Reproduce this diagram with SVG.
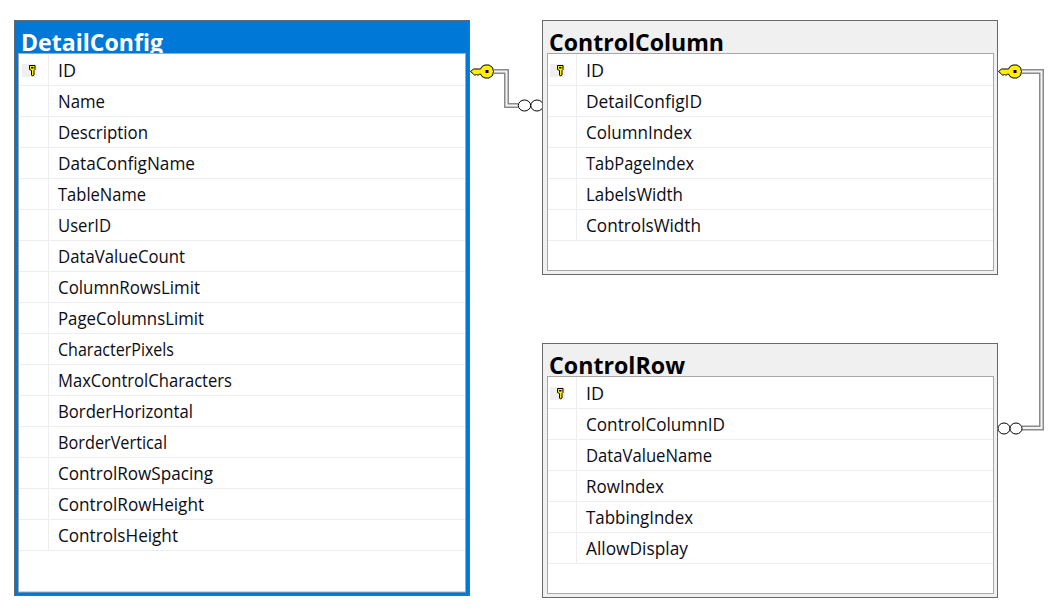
<svg xmlns="http://www.w3.org/2000/svg" width="1055" height="614" viewBox="0 0 1055 614">
<style>
text{font-family:"Open Sans","Noto Sans","Liberation Sans",sans-serif;}
.t{font-size:24px;font-weight:700;fill:#000}
.w{fill:#fff}
.f{font-size:18px;fill:#0c0c14}
.o{fill:#f0f0f0;stroke:#696969;stroke-width:1}
.b{fill:#0078d7;stroke:#5f6a74;stroke-width:1}
.p{fill:#fff;stroke:#a8a8a8;stroke-width:1}
.r{stroke:#eeeeee;stroke-width:1;fill:none}
.k{fill:#efefef}
.c1{fill:none;stroke:#8a8a8a;stroke-width:5}
.c2{fill:none;stroke:#f4f4f4;stroke-width:2}
.ci{fill:#fff;stroke:#000;stroke-width:1}
.g{fill:#ffee00;stroke:#000;stroke-width:1}
.h{fill:#000}
</style>
<defs>
<g id="pk"><rect class="k" x="-8" y="-7" width="15" height="13"/><path class="g" d="M-0.500 -5.500H5V-1.500L4 -0.500V4L2.500 5L1.500 4V-0.500L-0.500 -1.500Z"/><rect class="h" x="1" y="-4" width="2.500" height="1.500"/></g>
<g id="lk"><path class="g" d="M0.500 0L3.500 -2.500H10.500L12 -5L15 -6.500H19L22.500 -4L23.500 0L22.500 4L19 6.500H15L12 5L10.500 2.500H9.500L8 4L6.500 2.500L5 4L3.500 2.500Z"/><rect class="h" x="15.500" y="-1.500" width="3" height="3"/></g>
</defs>
<g id="connectors">
<path class="c1" d="M494 71.500H506.500V105.500H518"/>
<path class="c2" d="M494 71.500H506.500V105.500H518"/>
<ellipse class="ci" cx="524.500" cy="105.500" rx="6.200" ry="5.500"/><ellipse class="ci" cx="537" cy="105.500" rx="6.200" ry="5.500"/>
<path class="c1" d="M1022 71.500H1041.500V428H1022"/>
<path class="c2" d="M1022 71.500H1041.500V428H1022"/>
<ellipse class="ci" cx="1004" cy="428.500" rx="6" ry="5.500"/><ellipse class="ci" cx="1016" cy="428.500" rx="6" ry="5.500"/>
<use href="#lk" x="470" y="71.500"/>
<use href="#lk" x="998" y="71.500"/>
</g>
<g id="DetailConfig">
<rect class="b" x="14.500" y="20.500" width="455" height="575"/>
<text class="t w" x="21" y="51" textLength="142" lengthAdjust="spacingAndGlyphs">DetailConfig</text>
<rect class="p" x="18.500" y="53.500" width="447" height="538.500"/>
<path class="r" d="M19 85.500H465M19 116.500H465M19 147.500H465M19 178.500H465M19 209.500H465M19 240.500H465M19 271.500H465M19 302.500H465M19 333.500H465M19 364.500H465M19 395.500H465M19 426.500H465M19 457.500H465M19 488.500H465M19 519.500H465M19 550.500H465M48.500 54V550"/>
<use href="#pk" x="30" y="71"/>
<text class="f" x="58" y="77" textLength="18" lengthAdjust="spacingAndGlyphs">ID</text>
<text class="f" x="58" y="108" textLength="47" lengthAdjust="spacingAndGlyphs">Name</text>
<text class="f" x="58" y="139" textLength="90" lengthAdjust="spacingAndGlyphs">Description</text>
<text class="f" x="58" y="170" textLength="137" lengthAdjust="spacingAndGlyphs">DataConfigName</text>
<text class="f" x="58" y="201" textLength="88" lengthAdjust="spacingAndGlyphs">TableName</text>
<text class="f" x="58" y="232" textLength="53" lengthAdjust="spacingAndGlyphs">UserID</text>
<text class="f" x="58" y="263" textLength="127" lengthAdjust="spacingAndGlyphs">DataValueCount</text>
<text class="f" x="58" y="294" textLength="142" lengthAdjust="spacingAndGlyphs">ColumnRowsLimit</text>
<text class="f" x="58" y="325" textLength="146" lengthAdjust="spacingAndGlyphs">PageColumnsLimit</text>
<text class="f" x="58" y="356" textLength="116" lengthAdjust="spacingAndGlyphs">CharacterPixels</text>
<text class="f" x="58" y="387" textLength="174" lengthAdjust="spacingAndGlyphs">MaxControlCharacters</text>
<text class="f" x="58" y="418" textLength="135" lengthAdjust="spacingAndGlyphs">BorderHorizontal</text>
<text class="f" x="58" y="449" textLength="109" lengthAdjust="spacingAndGlyphs">BorderVertical</text>
<text class="f" x="58" y="480" textLength="155" lengthAdjust="spacingAndGlyphs">ControlRowSpacing</text>
<text class="f" x="58" y="511" textLength="146" lengthAdjust="spacingAndGlyphs">ControlRowHeight</text>
<text class="f" x="58" y="542" textLength="120" lengthAdjust="spacingAndGlyphs">ControlsHeight</text>
</g>
<g id="ControlColumn">
<rect class="o" x="542.500" y="20.500" width="455" height="254"/>
<text class="t" x="549" y="51" textLength="175" lengthAdjust="spacingAndGlyphs">ControlColumn</text>
<rect class="p" x="547.500" y="53.500" width="446" height="217"/>
<path class="r" d="M548 85.500H993M548 116.500H993M548 147.500H993M548 178.500H993M548 209.500H993M548 240.500H993M576.500 54V240"/>
<use href="#pk" x="558" y="71"/>
<text class="f" x="586" y="77" textLength="18" lengthAdjust="spacingAndGlyphs">ID</text>
<text class="f" x="586" y="108" textLength="116" lengthAdjust="spacingAndGlyphs">DetailConfigID</text>
<text class="f" x="586" y="139" textLength="106" lengthAdjust="spacingAndGlyphs">ColumnIndex</text>
<text class="f" x="586" y="170" textLength="108" lengthAdjust="spacingAndGlyphs">TabPageIndex</text>
<text class="f" x="586" y="201" textLength="97" lengthAdjust="spacingAndGlyphs">LabelsWidth</text>
<text class="f" x="586" y="232" textLength="115" lengthAdjust="spacingAndGlyphs">ControlsWidth</text>
</g>
<g id="ControlRow">
<rect class="o" x="542.500" y="343.500" width="455" height="254"/>
<text class="t" x="549" y="374" textLength="136" lengthAdjust="spacingAndGlyphs">ControlRow</text>
<rect class="p" x="547.500" y="376.500" width="446" height="217"/>
<path class="r" d="M548 408.500H993M548 439.500H993M548 470.500H993M548 501.500H993M548 532.500H993M548 563.500H993M576.500 377V563"/>
<use href="#pk" x="558" y="394"/>
<text class="f" x="586" y="400" textLength="18" lengthAdjust="spacingAndGlyphs">ID</text>
<text class="f" x="586" y="431" textLength="139" lengthAdjust="spacingAndGlyphs">ControlColumnID</text>
<text class="f" x="586" y="462" textLength="126" lengthAdjust="spacingAndGlyphs">DataValueName</text>
<text class="f" x="586" y="493" textLength="78" lengthAdjust="spacingAndGlyphs">RowIndex</text>
<text class="f" x="586" y="524" textLength="107" lengthAdjust="spacingAndGlyphs">TabbingIndex</text>
<text class="f" x="586" y="555" textLength="102" lengthAdjust="spacingAndGlyphs">AllowDisplay</text>
</g>
</svg>
